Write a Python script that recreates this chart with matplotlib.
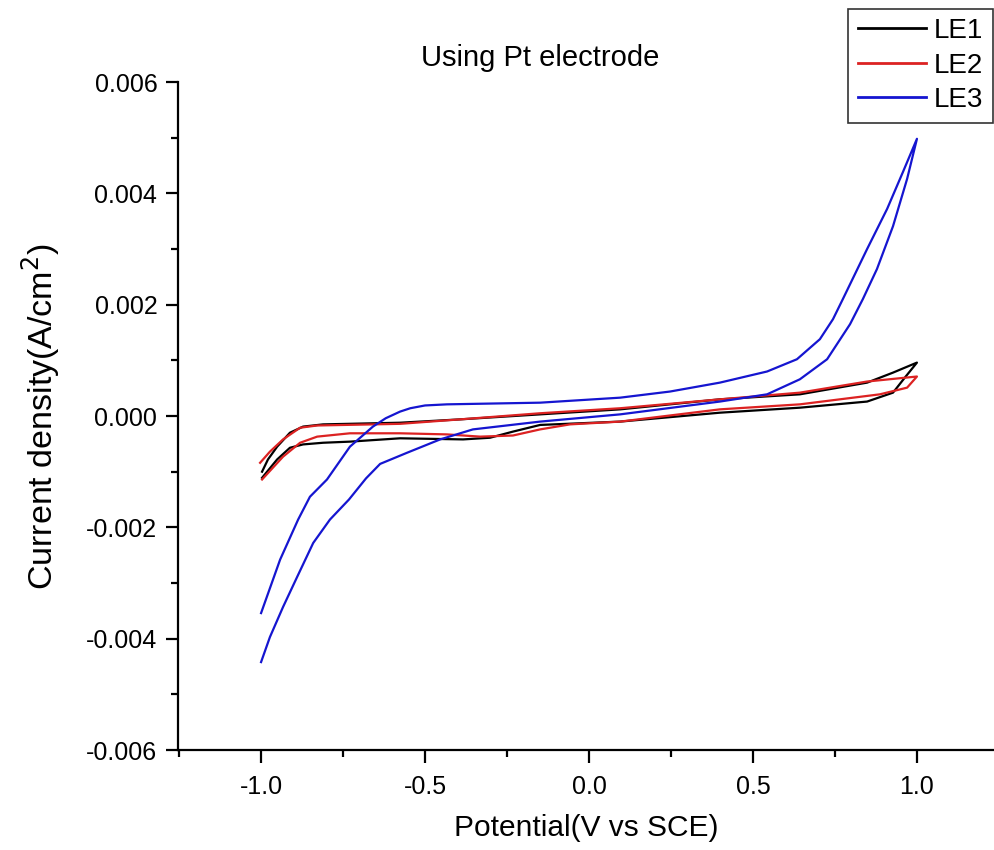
import matplotlib
matplotlib.use("Agg")
import matplotlib.pyplot as plt
from matplotlib.ticker import MultipleLocator, FuncFormatter

plt.rcParams['font.family'] = ['Liberation Sans', 'DejaVu Sans']
plt.rcParams['axes.unicode_minus'] = False

# LE1 cyclic voltammogram (closed loop: forward then reverse)
le1_v = [-0.997, -0.979, -0.951, -0.912, -0.872, -0.811, -0.576, -0.393, -0.149, 0.095,
         0.399, 0.643, 0.848, 0.927, 1.000,
         0.963, 0.927, 0.848, 0.643, 0.399, 0.095, -0.149, -0.232, -0.302, -0.384,
         -0.576, -0.729, -0.811, -0.872, -0.912, -0.951, -0.997]
le1_j = [-0.00100, -0.00078, -0.00055, -0.00030, -0.00019, -0.00015, -0.00012, -0.00006, 0.00003, 0.00012,
         0.00030, 0.00039, 0.00060, 0.00078, 0.00096,
         0.00069, 0.00042, 0.00026, 0.00015, 0.00006, -0.00010, -0.00016, -0.00028, -0.00039, -0.00042,
         -0.00040, -0.00046, -0.00048, -0.00051, -0.00057, -0.00078, -0.00111]

# LE2
le2_v = [-1.003, -0.973, -0.933, -0.881, -0.829, -0.576, -0.393, -0.149, 0.095, 0.399,
         0.643, 0.848, 1.000,
         0.970, 0.887, 0.643, 0.399, 0.095, -0.058, -0.149, -0.232, -0.332, -0.433,
         -0.576, -0.729, -0.829, -0.881, -0.933, -0.997]
le2_j = [-0.00084, -0.00064, -0.00042, -0.00021, -0.00017, -0.00014, -0.00006, 0.00005, 0.00014, 0.00030,
         0.00042, 0.00062, 0.00071,
         0.00051, 0.00039, 0.00021, 0.00012, -0.00010, -0.00015, -0.00024, -0.00035, -0.00037, -0.00033,
         -0.00031, -0.00031, -0.00037, -0.00048, -0.00073, -0.00114]

# LE3
le3_v = [-1.000, -0.973, -0.933, -0.890, -0.841, -0.790, -0.732, -0.680, -0.637, -0.555, -0.454,
         -0.354, -0.149, 0.095, 0.399, 0.543, 0.643, 0.726, 0.796, 0.835, 0.878,
         0.927, 0.970, 1.000,
         0.957, 0.909, 0.848, 0.774, 0.744, 0.704, 0.634, 0.543, 0.399, 0.247,
         0.095, -0.149, -0.433, -0.500, -0.545, -0.576, -0.620, -0.659, -0.729, -0.799, -0.851,
         -0.887, -0.942, -1.000]
le3_j = [-0.00442, -0.00397, -0.00343, -0.00289, -0.00228, -0.00186, -0.00150, -0.00112, -0.00086, -0.00066, -0.00042,
         -0.00024, -0.00010, 0.00003, 0.00026, 0.00039, 0.00066, 0.00102, 0.00165, 0.00210, 0.00264,
         0.00341, 0.00426, 0.00498,
         0.00438, 0.00372, 0.00300, 0.00210, 0.00174, 0.00138, 0.00102, 0.00080, 0.00060, 0.00044,
         0.00033, 0.00024, 0.00021, 0.00019, 0.00014, 0.00008, -0.00004, -0.00019, -0.00055, -0.00114, -0.00145,
         -0.00186, -0.00258, -0.00354]

fig = plt.figure(figsize=(9.95, 8.5), dpi=100)
ax = fig.add_axes([0.179, 0.1176, 0.821, 0.7859])

l1, = ax.plot(le1_v, le1_j, color='black', lw=1.6, label='LE1')
l2, = ax.plot(le2_v, le2_j, color='#dc2222', lw=1.6, label='LE2')
l3, = ax.plot(le3_v, le3_j, color='#1515d0', lw=1.6, label='LE3')

ax.set_xlim(-1.253, 1.238)
ax.set_ylim(-0.006, 0.006)
ax.xaxis.set_major_locator(MultipleLocator(0.5))
ax.xaxis.set_minor_locator(MultipleLocator(0.25))
ax.yaxis.set_major_locator(MultipleLocator(0.002))
ax.yaxis.set_minor_locator(MultipleLocator(0.001))
ax.xaxis.set_major_formatter(FuncFormatter(lambda v, p: '%.1f' % v))
ax.yaxis.set_major_formatter(FuncFormatter(lambda v, p: '%.3f' % v if abs(v) > 1e-9 else '0.000'))

for s in ['top', 'right']:
    ax.spines[s].set_visible(False)
for s in ['left', 'bottom']:
    ax.spines[s].set_linewidth(1.6)
ax.tick_params(which='major', direction='out', length=9, width=1.6, labelsize=18, pad=6)
ax.tick_params(axis='x', which='major', pad=9)
ax.tick_params(which='minor', direction='out', length=5, width=1.6)

ax.set_xlabel('Potential(V vs SCE)', fontsize=21.5, labelpad=11)
ax.set_ylabel('Current density(A/cm$^2$)', fontsize=24.5, labelpad=17)
fig.text(0.543, 0.932, 'Using Pt electrode', fontsize=21, ha='center', va='center')

leg = fig.legend(handles=[l1, l2, l3], loc='upper right', bbox_to_anchor=(0.998, 0.99),
                 fontsize=20, frameon=True, fancybox=False, edgecolor='black',
                 handlelength=2.45, handletextpad=0.3, labelspacing=0.3, borderpad=0.35,
                 borderaxespad=0.0)
leg.get_frame().set_linewidth(1.2)
for h in leg.get_lines():
    h.set_linewidth(2.0)

fig.savefig('out.png', dpi=100)
